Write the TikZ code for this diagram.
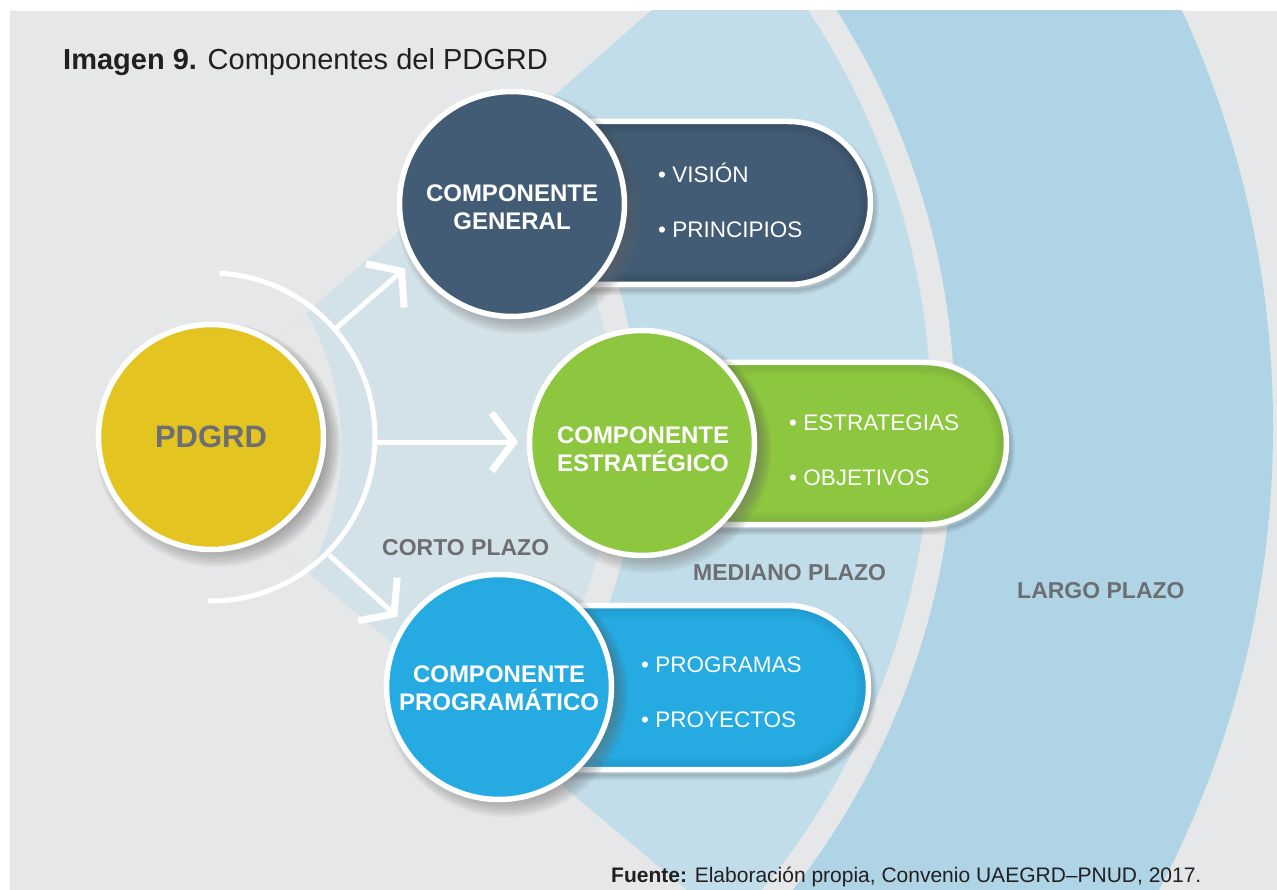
\documentclass[tikz,border=0pt]{standalone}
\usepackage{fontspec}
\setmainfont{Liberation Sans}
\usetikzlibrary{calc,arrows.meta}

\definecolor{bg}{HTML}{E6E7E8}
\definecolor{corto}{HTML}{D3E2E9}
\definecolor{mediano}{HTML}{C1DDE9}
\definecolor{largo}{HTML}{AED4E6}
\definecolor{genc}{HTML}{435C75}
\definecolor{gend}{HTML}{2F4256}
\definecolor{estc}{HTML}{8DC63F}
\definecolor{estd}{HTML}{6E9E38}
\definecolor{proc}{HTML}{25AAE1}
\definecolor{prod}{HTML}{1C8AB8}
\definecolor{pdc}{HTML}{E4C421}
\definecolor{pdd}{HTML}{CDAE2E}
\definecolor{txtgray}{HTML}{6D6E71}
\definecolor{txtdark}{HTML}{231F20}
\definecolor{shade}{HTML}{3A3A40}
\colorlet{cin}{genc}
\colorlet{cout}{gend}

\pgfdeclareradialshading[cin,cout]{cglow}{\pgfpoint{0bp}{-14bp}}{color(0bp)=(cin); color(30bp)=(cin); color(64bp)=(cout)}

\newcommand\cshadow[2]{%
  \foreach \i in {1,...,9}{\fill[shade, opacity=0.045] ({#1+7},{#2+8}) circle[radius={104+2*\i}];}%
}
\newcommand\pshadow[4]{%
  \foreach \w in {2,5,8,11}{\draw[shade, opacity=0.05, line width=\w pt, shift={(3,5)}, pillp={#1}{#2}{#3}{#4}];}%
}

\tikzset{
  comp/.style 2 args={circle, minimum size=225pt, inner sep=0pt, draw=white, line width=5.5pt,
    /utils/exec={\colorlet{cin}{#1}\colorlet{cout}{#2}}, shading=cglow},
  ctext/.style={text=white, font=\bfseries\fontsize{24}{28}\selectfont, align=center, inner sep=0pt},
  item/.style={text=white, font=\fontsize{22.5}{27}\selectfont, anchor=base west, inner sep=0pt},
  term/.style={text=txtgray, font=\bfseries\fontsize{23}{27}\selectfont, anchor=base west, inner sep=0pt},
  pillp/.style n args={4}{insert path={(#1,#2) -- (#3,#2) arc[start angle=-90,end angle=90,radius=#4] -- (#1,{#2+2*#4}) -- cycle}},
  arr/.style={draw=white, line width=5pt, -{Straight Barb[length=22pt, width=58pt, line width=7pt, sharp]}},
}

\begin{document}
\begin{tikzpicture}[x=1pt,y=-1pt]
\useasboundingbox (0,0) rectangle (1277,890);
\fill[white] (0,0) rectangle (1277,890);
\fill[bg] (10,11) rectangle (1277,890);

% time horizon bands
\begin{scope}
  \clip (10,11) rectangle (1277,890);
  \clip (156,445) -- (1148,-425) -- (1400,-425) -- (1400,1335) -- (1218,1335) -- cycle;
  \fill[largo] (278,427) circle[radius=995];
  \fill[bg] (191,419) circle[radius=764];
  \fill[mediano] (191,419) circle[radius=740];
  \fill[bg] (126,430) circle[radius=513];
  \fill[corto] (126,430) circle[radius=488];
  \fill[bg] (71,445) circle[radius=270];
\end{scope}

% title and source
\node[anchor=base west, inner sep=0pt, text=txtdark, font=\fontsize{29}{34}\selectfont] (title) at (63,70) {\textbf{Imagen 9.} Componentes del PDGRD};
\node[anchor=base west, inner sep=0pt, text=txtdark, font=\fontsize{21}{25}\selectfont] (src) at (611,882) {\textbf{Fuente:} Elaboración propia, Convenio UAEGRD–PNUD, 2017.};

% PDGRD
\cshadow{211}{437}
\node[comp={pdc}{pdd}, text=txtgray, font=\bfseries\fontsize{31}{36}\selectfont] (pd) at (211,437) {PDGRD};
\draw[white, line width=5pt] ($(pd)+(-87:164)$) arc[start angle=-87, end angle=91, radius=164];

% arrows
\coordinate (a1s) at ($(pd)+(-41:166)$);
\coordinate (a1e) at ($(pd)+(-41:257)$);
\coordinate (a2s) at ($(pd)+(165,5)$);
\coordinate (a2e) at ($(pd)+(307,5)$);
\coordinate (a3s) at ($(pd)+(45:167)$);
\coordinate (a3e) at ($(pd)+(44:259)$);
\draw[arr] (a1s) -- (a1e);
\draw[arr] (a2s) -- (a2e);
\draw[arr] (a3s) -- (a3e);

% pills
\pshadow{512}{121.5}{789}{81.5}
\path[fill=genc, pillp={512}{121.5}{789}{81.5}];
\begin{scope}
  \clip[pillp={512}{121.5}{789}{81.5}];
  \foreach \w in {6,12,18,24}{\draw[gend, opacity=0.14, line width=\w pt, pillp={512}{121.5}{789}{81.5}];}
\end{scope}
\draw[white, line width=5.5pt, pillp={512}{121.5}{789}{81.5}];

\pshadow{642}{362.5}{925.5}{81}
\path[fill=estc, pillp={642}{362.5}{925.5}{81}];
\begin{scope}
  \clip[pillp={642}{362.5}{925.5}{81}];
  \foreach \w in {6,12,18,24}{\draw[estd, opacity=0.14, line width=\w pt, pillp={642}{362.5}{925.5}{81}];}
\end{scope}
\draw[white, line width=5.5pt, pillp={642}{362.5}{925.5}{81}];

\pshadow{499}{605.5}{786.5}{82}
\path[fill=proc, pillp={499}{605.5}{786.5}{82}];
\begin{scope}
  \clip[pillp={499}{605.5}{786.5}{82}];
  \foreach \w in {6,12,18,24}{\draw[prod, opacity=0.14, line width=\w pt, pillp={499}{605.5}{786.5}{82}];}
\end{scope}
\draw[white, line width=5.5pt, pillp={499}{605.5}{786.5}{82}];

% component circles
\cshadow{512}{204}
\node[comp={genc}{gend}] (gen) at (512,204) {};
\node[ctext] (genT) at (512,207) {COMPONENTE\\GENERAL};
\cshadow{642}{443}
\node[comp={estc}{estd}] (est) at (642,443) {};
\node[ctext] (estT) at (643,449) {COMPONENTE\\ESTRATÉGICO};
\cshadow{499}{687}
\node[comp={proc}{prod}] (pro) at (499,687) {};
\node[ctext] (proT) at (499,688) {COMPONENTE\\PROGRAMÁTICO};

% items
\node[item] (g1) at (658,183) {• VISIÓN};
\node[item] (g2) at (658,238) {• PRINCIPIOS};
\node[item] (e1) at (789,430) {• ESTRATEGIAS};
\node[item] (e2) at (789,485) {• OBJETIVOS};
\node[item] (p1) at (641,672) {• PROGRAMAS};
\node[item] (p2) at (641,727) {• PROYECTOS};

% horizon labels
\node[term] (corto) at (382,555) {CORTO PLAZO};
\node[term] (med) at (693,580) {MEDIANO PLAZO};
\node[term] (largo) at (1017,598) {LARGO PLAZO};
\end{tikzpicture}
\end{document}
